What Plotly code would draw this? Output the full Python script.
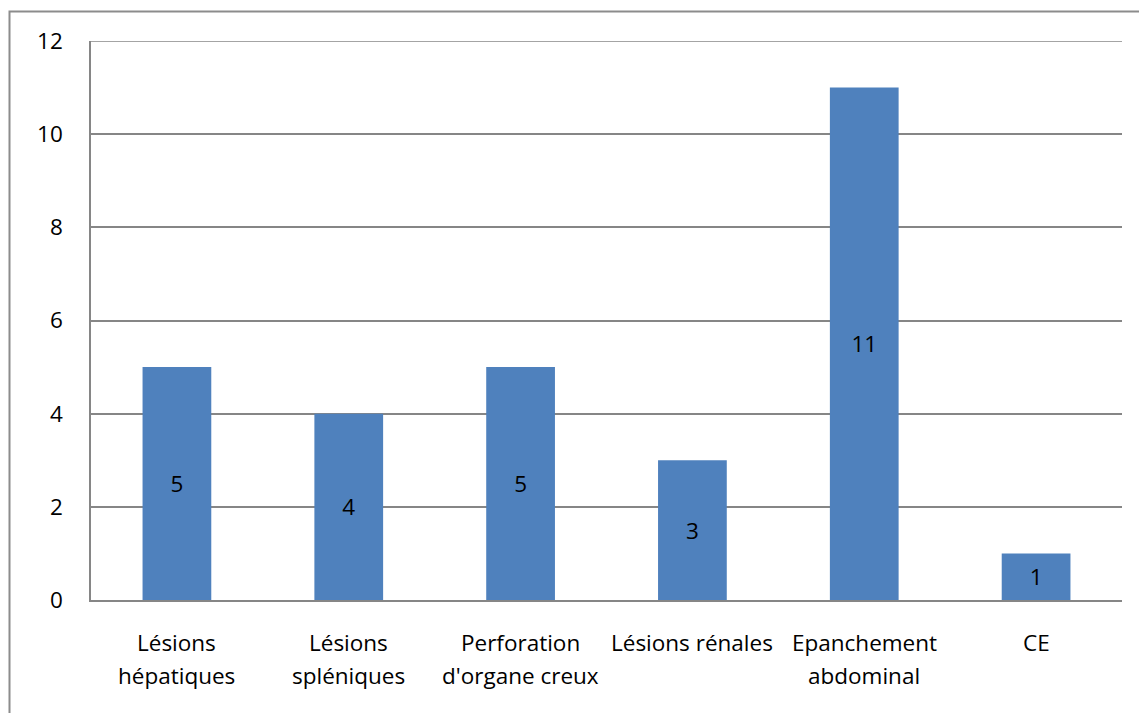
import plotly.graph_objects as go

categories = ["Lésions hépatiques", "Lésions spléniques", "Perforation d'organe creux",
              "Lésions rénales", "Epanchement abdominal", "CE"]
label_lines = [["Lésions", "hépatiques"], ["Lésions", "spléniques"], ["Perforation", "d'organe creux"],
               ["Lésions rénales"], ["Epanchement", "abdominal"], ["CE"]]
values = [5, 4, 5, 3, 11, 1]
y_ticks = [0, 2, 4, 6, 8, 10, 12]

FONT = "Open Sans, Calibri, Carlito, sans-serif"
FS = 22.5
GRID = "#868686"

fig = go.Figure(go.Bar(
    x=categories, y=values, width=0.4,
    marker=dict(color="#4F81BD", line=dict(width=0)),
    text=[str(v) for v in values], textposition="inside", insidetextanchor="middle",
    textfont=dict(family=FONT, size=FS, color="black"),
    textangle=0,
))

fig.update_layout(
    width=1147, height=713,
    margin=dict(l=83, r=33, t=33, b=121),
    plot_bgcolor="white", paper_bgcolor="white",
    font=dict(family=FONT, size=FS, color="black"),
    showlegend=False,
    uniformtext=dict(minsize=FS, mode="show"),
)
fig.update_xaxes(
    showgrid=False, showline=True, linecolor=GRID, linewidth=1.5,
    ticks="", showticklabels=False,
)
fig.update_yaxes(
    range=[0, 12], tickvals=y_ticks, showgrid=True, gridcolor=GRID, gridwidth=1.5,
    showline=True, linecolor=GRID, linewidth=1.5, ticks="", ticklabelstandoff=22,
    zeroline=False, tickfont=dict(size=FS),
)
fig.add_shape(type="line", xref="paper", yref="y", x0=0, x1=1, y0=12, y1=12,
              line=dict(color=GRID, width=1.5), layer="below")

for cat, lines in zip(categories, label_lines):
    for i, line in enumerate(lines):
        fig.add_annotation(x=cat, xref="x", y=0, yref="paper", text=line, showarrow=False,
                           xanchor="center", yanchor="middle", yshift=-(42 + 33 * i),
                           font=dict(family=FONT, size=FS, color="black"))

fig.add_shape(type="rect", xref="paper", yref="paper",
              x0=(9.5 - 91) / 1031, x1=1.1, y0=-0.3, y1=1 + (41 - 11.5) / 559,
              line=dict(color="#8c8c8c", width=2), layer="below")

fig.write_html("out.html")
